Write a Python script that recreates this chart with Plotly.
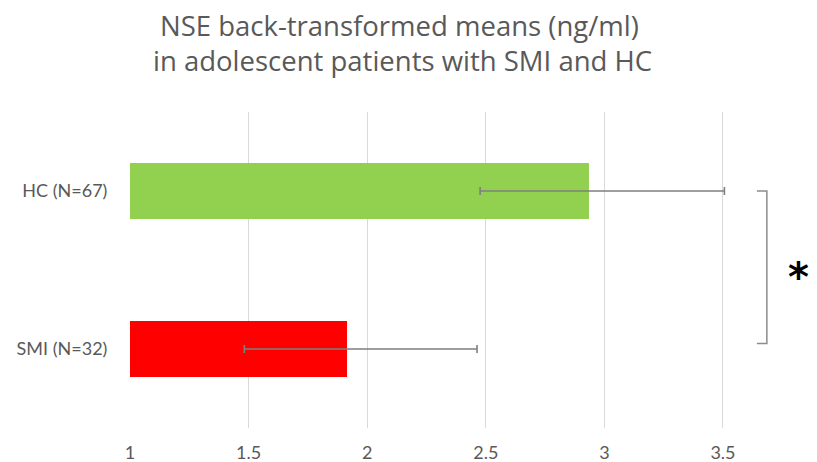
import plotly.graph_objects as go

categories = ["SMI (N=32)", "HC (N=67)"]
means = [1.915, 2.935]
err_minus = [0.433, 0.459]
err_plus = [0.548, 0.571]
colors = ["#ff0000", "#92d050"]
x_ticks = [1, 1.5, 2, 2.5, 3, 3.5]
title_lines = ["NSE back-transformed means (ng/ml)", "in adolescent patients with SMI and HC"]

L, R, T, B = 130, 11, 111.5, 34
W, H = 817, 462
pw, ph = W - L - R, H - T - B

def px_x(px):
    return (px - L) / pw

def px_y(py):
    return 1 + (T - py) / ph

fig = go.Figure()
fig.add_trace(go.Bar(
    y=categories, x=[m - 1 for m in means], base=1, orientation="h",
    marker=dict(color=colors, line=dict(width=0)),
    error_x=dict(type="data", symmetric=False, array=err_plus, arrayminus=err_minus,
                 color="#7f7f7f", thickness=1.6, width=4),
    hoverinfo="skip",
))

# significance bracket
bx = 3.685
fig.add_shape(type="path", xref="x", yref="y",
              path=f"M {bx-0.042},1 L {bx},1 L {bx},0.035 L {bx-0.042},0.035",
              line=dict(color="#8c8c8c", width=1.5))
fig.add_annotation(x=px_x(798), y=px_y(272), xref="paper", yref="paper", text="<b>*</b>",
                   xanchor="center", yanchor="middle", yshift=-5,
                   showarrow=False, font=dict(size=40, color="black", family="DejaVu Sans"))

for txt, cx, cy in zip(title_lines, [399, 402], [25, 60]):
    fig.add_annotation(x=px_x(cx), y=px_y(cy), xref="paper", yref="paper", text=txt,
                       xanchor="center", yanchor="middle", showarrow=False,
                       font=dict(family="Open Sans", size=27.5, color="#595959"))

fig.update_layout(
    width=W, height=H,
    margin=dict(l=L, r=R, t=T, b=B, autoexpand=False),
    paper_bgcolor="white", plot_bgcolor="white",
    bargap=0.645,
    showlegend=False,
    xaxis=dict(range=[1, 3.85], tickvals=x_ticks, ticktext=[str(t) for t in x_ticks],
               showgrid=True, gridcolor="#d9d9d9", gridwidth=1, zeroline=False,
               showline=False, ticks="outside", ticklen=8, tickcolor="rgba(0,0,0,0)",
               automargin=False,
               tickfont=dict(family="Lato", size=18, color="#595959")),
    yaxis=dict(showgrid=False, zeroline=False, showline=False, ticks="outside",
               ticklen=18, tickcolor="rgba(0,0,0,0)", automargin=False,
               tickfont=dict(family="Lato", size=18, color="#595959")),
)

fig.write_html("out.html", config={"displayModeBar": False},
               post_script="document.body.style.margin='0';")
